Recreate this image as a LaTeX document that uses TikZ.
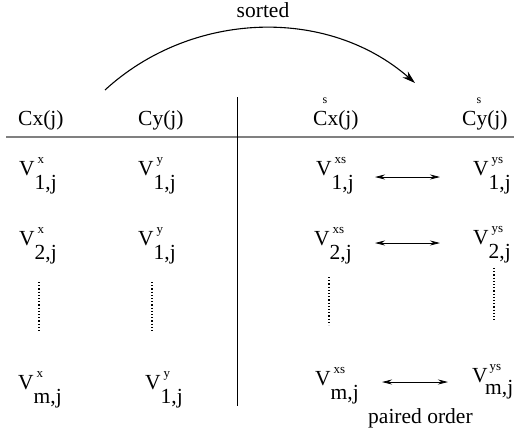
\documentclass[tikz,border=0pt]{standalone}
\usepackage{fontspec}
\setmainfont{Liberation Serif}
\usetikzlibrary{arrows.meta}
\newcommand{\supsz}{\fontsize{13}{13}\selectfont}
\newcommand{\VV}[2]{V\rlap{\kern3pt\raisebox{12pt}{\supsz #1}}\raisebox{-14pt}{#2}}
\newcommand{\VVtight}[2]{V\rlap{\kern2pt\raisebox{12pt}{\supsz #1}}\kern-2.5pt\raisebox{-12pt}{#2}}
\tikzset{
  txt/.style={inner sep=0pt, anchor=base west, font=\fontsize{21.5}{24}\selectfont},
  smalltxt/.style={inner sep=0pt, anchor=base west, font=\fontsize{12}{12}\selectfont},
  dotline/.style={line width=1.5pt, dash pattern=on 1.1pt off 2.1pt},
  pairarrow/.style={line width=0.8pt, {Stealth[length=10pt,width=5pt]}-{Stealth[length=10pt,width=5pt]}},
  sortarrow/.style={line width=1.1pt, -{Stealth[length=13pt,width=8pt]}},
}
\begin{document}
\begin{tikzpicture}[x=1pt,y=-1pt]
\useasboundingbox (0,0) rectangle (514,439);
% separators
\coordinate (hl0) at (6,137);
\coordinate (hl1) at (514,137);
\coordinate (vl0) at (237,97);
\coordinate (vl1) at (237,406);
\draw[line width=2pt, gray] (hl0) -- (hl1);
\draw[line width=1pt] (vl0) -- (vl1);
% title arrow
\node[txt, anchor=base] (sorted) at (263,17) {sorted};
\coordinate (s0) at (105,90);
\coordinate (s1) at (415,83);
\draw[sortarrow] (s0) .. controls (191,11) and (327,6) .. (s1);
% headers
\node[txt] (h1) at (18,125) {Cx(j)};
\node[txt] (h2) at (138,125) {Cy(j)};
\node[txt] (h3) at (313,125) {Cx(j)};
\node[txt] (h4) at (462,125) {Cy(j)};
\node[smalltxt] (h3s) at (322.5,103) {s};
\node[smalltxt] (h4s) at (476.5,103) {s};
% row 1
\node[txt] (a1) at (19,175) {\VV{x}{1,j}};
\node[txt] (b1) at (138,175) {\VV{y}{1,j}};
\node[txt] (c1) at (316,175) {\VV{xs}{1,j}};
\node[txt] (d1) at (473,175) {\VV{ys}{1,j}};
% row 2
\node[txt] (a2) at (19,245) {\VV{x}{2,j}};
\node[txt] (b2) at (138,245) {\VV{y}{1,j}};
\node[txt] (c2) at (314,245) {\VV{xs}{2,j}};
\node[txt] (d2) at (473,244) {\VV{ys}{2,j}};
% row m
\node[txt] (a3) at (18,389) {\VV{x}{m,j}};
\node[txt] (b3) at (145,389) {\VV{y}{1,j}};
\node[txt] (c3) at (315,385) {\VV{xs}{m,j}};
\node[txt] (d3) at (472,382) {\VVtight{ys}{m,j}};
% dotted columns
\coordinate (da0) at (39,282); \coordinate (da1) at (39,332);
\coordinate (db0) at (152,282); \coordinate (db1) at (152,332);
\coordinate (dc0) at (329,277); \coordinate (dc1) at (329,325);
\coordinate (dd0) at (494,268); \coordinate (dd1) at (494,320);
\draw[dotline] (da0) -- (da1);
\draw[dotline] (db0) -- (db1);
\draw[dotline] (dc0) -- (dc1);
\draw[dotline] (dd0) -- (dd1);
% paired arrows
\coordinate (p1a) at (375,177); \coordinate (p1b) at (440,177);
\coordinate (p2a) at (375,243); \coordinate (p2b) at (440,243);
\coordinate (p3a) at (382,382); \coordinate (p3b) at (448,382);
\draw[pairarrow] (p1a) -- (p1b);
\draw[pairarrow] (p2a) -- (p2b);
\draw[pairarrow] (p3a) -- (p3b);
\node[txt] (paired) at (368,423) {paired order};
\end{tikzpicture}
\end{document}
